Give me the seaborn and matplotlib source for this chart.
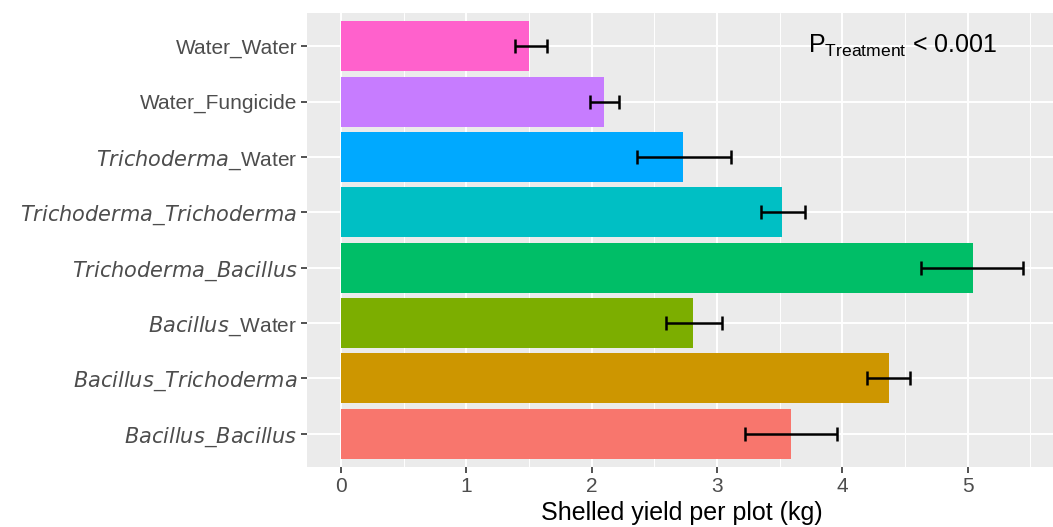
import numpy as np
import matplotlib
matplotlib.use('Agg')
import matplotlib.pyplot as plt
from matplotlib.ticker import MultipleLocator
import seaborn as sns

# Data (top to bottom)
treatments = ['Water_Water', 'Water_Fungicide', 'Trichoderma_Water', 'Trichoderma_Trichoderma',
              'Trichoderma_Bacillus', 'Bacillus_Water', 'Bacillus_Trichoderma', 'Bacillus_Bacillus']
tick_labels = ['Water_Water', 'Water_Fungicide', r'$\mathit{Trichoderma\_}$Water',
               r'$\mathit{Trichoderma\_Trichoderma}$', r'$\mathit{Trichoderma\_Bacillus}$',
               r'$\mathit{Bacillus\_}$Water', r'$\mathit{Bacillus\_Trichoderma}$',
               r'$\mathit{Bacillus\_Bacillus}$']
yield_mean = np.array([1.50, 2.10, 2.73, 3.52, 5.04, 2.81, 4.37, 3.59])
err_low = np.array([1.39, 1.99, 2.36, 3.35, 4.63, 2.59, 4.20, 3.22])
err_high = np.array([1.64, 2.22, 3.11, 3.70, 5.44, 3.04, 4.54, 3.96])
colors = ['#FF61CC', '#C77CFF', '#00A9FF', '#00BFC4', '#00BE67', '#7CAE00', '#CD9600', '#F8766D']

sns.set_theme(style='darkgrid', rc={'axes.facecolor': '#EBEBEB', 'grid.color': 'white',
                                     'grid.linewidth': 1.4})
plt.rcParams['font.family'] = ['Liberation Sans', 'DejaVu Sans']
plt.rcParams['mathtext.fontset'] = 'custom'
plt.rcParams['mathtext.rm'] = 'Liberation Sans'
plt.rcParams['mathtext.it'] = 'DejaVu Sans:italic'

fig = plt.figure(figsize=(10.53, 5.27), dpi=100)
ax = fig.add_axes([0.2916, 0.1139, 0.712, 0.8614])

sns.barplot(x=yield_mean, y=treatments, hue=treatments, palette=colors, order=treatments,
            width=0.9, saturation=1, legend=False, linewidth=0, ax=ax)
ax.errorbar(yield_mean, np.arange(len(treatments)),
            xerr=[yield_mean - err_low, err_high - yield_mean],
            fmt='none', ecolor='black', elinewidth=1.8, capsize=4.7, capthick=1.8, zorder=5)

ax.set_xlim(-0.272, 5.712)
ax.set_ylim(len(treatments) - 0.4, -0.6)
ax.xaxis.set_major_locator(MultipleLocator(1))
ax.xaxis.set_minor_locator(MultipleLocator(0.5))
ax.grid(which='minor', axis='x', color='white', linewidth=0.7)
ax.grid(which='major', color='white', linewidth=1.4)
ax.set_axisbelow(True)

ax.set_yticks(np.arange(len(treatments)))
ax.set_yticklabels(tick_labels)
ax.tick_params(axis='both', which='major', labelsize=15, labelcolor='#4D4D4D',
               length=4, width=1.2, color='#333333', bottom=True, left=True, pad=3)
ax.tick_params(axis='x', which='minor', length=0)
for s in ax.spines.values():
    s.set_visible(False)

ax.set_xlabel('Shelled yield per plot (kg)', fontsize=18, color='black', labelpad=4)
ax.set_ylabel('')

ax.text(4.48, 0, r'P$_{\mathrm{Treatment}}$ < 0.001', fontsize=18, color='black',
        ha='center', va='center')

fig.savefig('out.png', dpi=100)
